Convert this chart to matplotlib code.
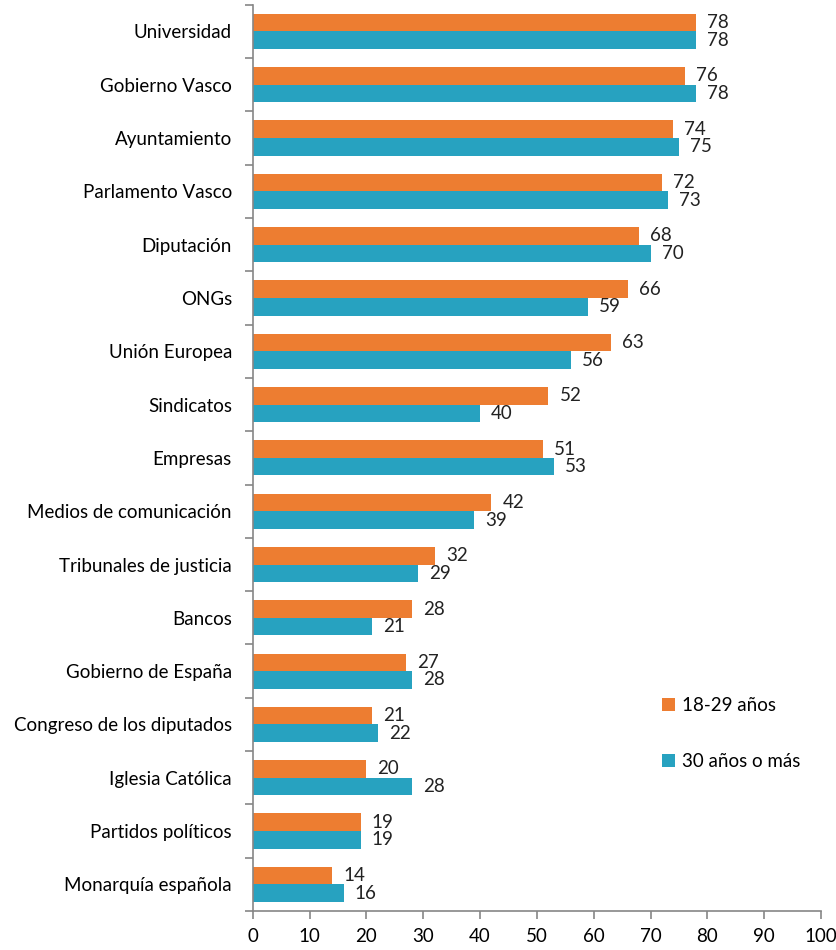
import numpy as np
import matplotlib.pyplot as plt
from matplotlib.ticker import FixedLocator

plt.rcParams['font.family'] = ['Lato', 'DejaVu Sans']

categorias = ["Universidad", "Gobierno Vasco", "Ayuntamiento", "Parlamento Vasco",
              "Diputación", "ONGs", "Unión Europea", "Sindicatos", "Empresas",
              "Medios de comunicación", "Tribunales de justicia", "Bancos",
              "Gobierno de España", "Congreso de los diputados", "Iglesia Católica",
              "Partidos políticos", "Monarquía española"]
jovenes = [78, 76, 74, 72, 68, 66, 63, 52, 51, 42, 32, 28, 27, 21, 20, 19, 14]
mayores = [78, 78, 75, 73, 70, 59, 56, 40, 53, 39, 29, 21, 28, 22, 28, 19, 16]

naranja = "#ED7D31"
azul = "#27A2C0"
gris = "#868686"
fs = 13.5

fig = plt.figure(figsize=(8.37, 9.5), dpi=100)
ax = fig.add_axes([0.302, 0.041, 0.679, 0.954])

n = len(categorias)
y = np.arange(n)[::-1]
h = 0.33

b1 = ax.barh(y + h / 2, jovenes, height=h, color=naranja, label="18-29 años")
b2 = ax.barh(y - h / 2, mayores, height=h, color=azul, label="30 años o más")

for barras, vals in ((b1, jovenes), (b2, mayores)):
    for b, v in zip(barras, vals):
        ax.annotate(str(v), (v, b.get_y() + b.get_height() / 2),
                    xytext=(8, 0), textcoords="offset points",
                    va="center", ha="left", fontsize=fs, color="#222222")

ax.set_xlim(0, 100)
ax.set_ylim(-0.5, n - 0.5)
ax.set_xticks(np.arange(0, 101, 10))
ax.set_yticks(y)
ax.set_yticklabels(categorias)
ax.yaxis.set_minor_locator(FixedLocator(np.arange(n + 1) - 0.5))

ax.tick_params(axis="y", which="major", length=0, pad=15, labelsize=fs)
ax.tick_params(axis="y", which="minor", length=6, width=1.2, color=gris)
ax.tick_params(axis="x", length=6, width=1.2, color=gris, labelsize=fs, pad=6)

for s in ("top", "right"):
    ax.spines[s].set_visible(False)
for s in ("left", "bottom"):
    ax.spines[s].set_color(gris)
    ax.spines[s].set_linewidth(1.2)

ax.legend(loc="upper left", bbox_to_anchor=(0.69, 0.255), frameon=False,
          fontsize=fs, handlelength=0.7, handleheight=0.7, handletextpad=0.4,
          labelspacing=2.1)

fig.savefig("out.png", dpi=100)
